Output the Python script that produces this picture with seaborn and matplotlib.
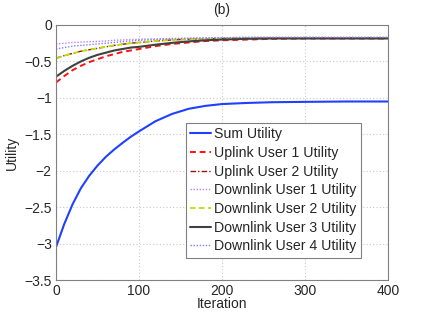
import pandas as pd
import matplotlib
matplotlib.use("Agg")
import matplotlib.pyplot as plt
import seaborn as sns

iterations = [0, 10, 20, 30, 40, 50, 60, 70, 80, 90, 100, 120, 140, 160, 180, 200, 230, 260, 300, 350, 400]

sum_utility = [-3.05, -2.73, -2.46, -2.24, -2.07, -1.93, -1.81, -1.71, -1.62, -1.535, -1.46,
               -1.32, -1.22, -1.15, -1.11, -1.085, -1.07, -1.06, -1.055, -1.05, -1.05]
uplink_user1 = [-0.79, -0.70, -0.62, -0.56, -0.51, -0.47, -0.43, -0.40, -0.37, -0.35, -0.33,
                -0.29, -0.26, -0.24, -0.22, -0.21, -0.20, -0.19, -0.185, -0.185, -0.185]
uplink_user2 = [-0.455, -0.42, -0.39, -0.36, -0.34, -0.32, -0.30, -0.28, -0.265, -0.25, -0.24,
                -0.22, -0.205, -0.195, -0.19, -0.185, -0.18, -0.18, -0.18, -0.18, -0.18]
downlink_user1 = [-0.26, -0.25, -0.24, -0.235, -0.23, -0.225, -0.22, -0.21, -0.205, -0.20, -0.195,
                  -0.19, -0.185, -0.18, -0.175, -0.175, -0.17, -0.17, -0.17, -0.17, -0.17]
downlink_user2 = [-0.46, -0.42, -0.39, -0.36, -0.34, -0.32, -0.30, -0.28, -0.265, -0.25, -0.24,
                  -0.22, -0.205, -0.195, -0.19, -0.185, -0.18, -0.18, -0.18, -0.18, -0.18]
downlink_user3 = [-0.71, -0.63, -0.56, -0.50, -0.45, -0.41, -0.38, -0.35, -0.33, -0.31, -0.30,
                  -0.27, -0.245, -0.225, -0.21, -0.20, -0.19, -0.185, -0.185, -0.185, -0.185]
downlink_user4 = [-0.33, -0.31, -0.29, -0.28, -0.27, -0.26, -0.25, -0.24, -0.23, -0.22, -0.21,
                  -0.20, -0.19, -0.185, -0.18, -0.175, -0.17, -0.17, -0.17, -0.17, -0.17]

x_ticks = [0, 100, 200, 300, 400]
y_ticks = [-3.5, -3, -2.5, -2, -1.5, -1, -0.5, 0]
y_tick_labels = ["\u22123.5", "\u22123", "\u22122.5", "\u22122", "\u22121.5", "\u22121", "\u22120.5", "0"]

series = [
    ("Sum Utility", sum_utility, "#2040ff", "-", 1.5),
    ("Uplink User 1 Utility", uplink_user1, "#ff1010", (0, (3, 2)), 1.4),
    ("Uplink User 2 Utility", uplink_user2, "#a01010", (0, (4, 1.5, 1, 1.5)), 1.0),
    ("Downlink User 1 Utility", downlink_user1, "#c080ff", (0, (1, 1.2)), 1.0),
    ("Downlink User 2 Utility", downlink_user2, "#b8e000", (0, (3, 2)), 1.3),
    ("Downlink User 3 Utility", downlink_user3, "#404040", "-", 1.5),
    ("Downlink User 4 Utility", downlink_user4, "#8080ff", (0, (1, 1.2)), 1.0),
]

sns.set_style("white")
plt.rcParams["font.family"] = ["Liberation Sans", "DejaVu Sans"]
plt.rcParams["font.size"] = 10

fig = plt.figure(figsize=(4.29, 3.16), dpi=100)
ax = fig.add_axes([0.1305, 0.1139, 0.7739, 0.807])

for label, values, color, ls, lw in series:
    df = pd.DataFrame({"Iteration": iterations, "Utility": values})
    sns.lineplot(data=df, x="Iteration", y="Utility", color=color, linestyle=ls,
                 linewidth=lw, label=label, ax=ax)

ax.set_xlim(0, 400)
ax.set_ylim(-3.5, 0)
ax.set_xticks(x_ticks)
ax.set_xticklabels([str(t) for t in x_ticks])
ax.set_yticks(y_ticks)
ax.set_yticklabels(y_tick_labels)
ax.grid(True, color="#c8c8c8", linestyle=(0, (1, 2)), linewidth=0.8)
ax.tick_params(direction="in", length=3, color="#808080", labelsize=10, pad=3)
for s in ax.spines.values():
    s.set_color("#808080")
    s.set_linewidth(0.8)

ax.set_title("(b)", fontsize=10, pad=8)
ax.set_xlabel("Iteration", fontsize=10, labelpad=-1)
ax.set_ylabel("Utility", fontsize=10, labelpad=4)

leg = ax.legend(loc="upper left", bbox_to_anchor=(0.3916, 0.6157), borderaxespad=0,
                fontsize=10.2, handlelength=1.45, handletextpad=0.25, labelspacing=0.33,
                borderpad=0.3, fancybox=False, framealpha=1, edgecolor="#808080")
leg.get_frame().set_linewidth(0.8)

fig.savefig("out.png", dpi=100)
